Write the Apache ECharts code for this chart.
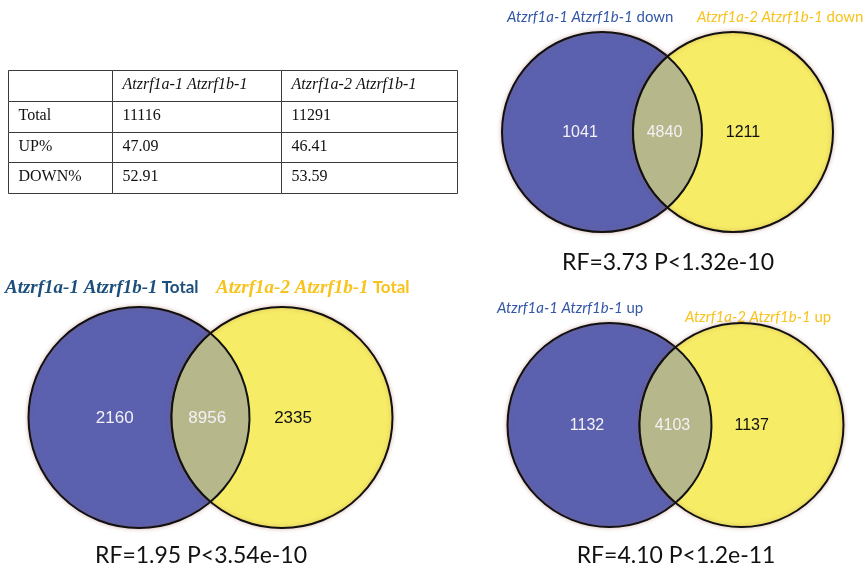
<!DOCTYPE html>
<html>
<head>
<meta charset="utf-8">
<script src="https://cdn.jsdelivr.net/npm/echarts@6/dist/echarts.min.js"></script>
<style>html,body{margin:0;padding:0;background:#fff}#main{width:868px;height:572px}</style>
</head>
<body>
<div id="main"></div>
<script>
// ---------------- DATA ----------------
const tableHeader = ['', 'Atzrf1a-1 Atzrf1b-1', 'Atzrf1a-2 Atzrf1b-1'];
const tableRowLabels = ['Total', 'UP%', 'DOWN%'];
const mutant1Stats = ['11116', '47.09', '52.91'];
const mutant2Stats = ['11291', '46.41', '53.59'];

const regionNames = ['only a-1', 'both', 'only a-2'];
const totalCounts = [2160, 8956, 2335];
const downCounts = [1041, 4840, 1211];
const upCounts = [1132, 4103, 1137];

const totalStat = 'RF=1.95 P<3.54e-10';
const downStat = 'RF=3.73 P<1.32e-10';
const upStat = 'RF=4.10 P<1.2e-11';

const genotype1 = 'Atzrf1a-1 Atzrf1b-1';
const genotype2 = 'Atzrf1a-2 Atzrf1b-1';

// ---------------- LAYOUT / STYLE ----------------
const BLUE = '#5b61af';
const YELLOW = '#f6ec66';
const MIX = '#b6b78b';
const TITLE_BLUE = '#3457a8';
const TITLE_GOLD = '#f7c31c';
const DARK_BLUE = '#1d4f7c';

const COL_EDGES = [0, 104, 273, 449];

// each venn: grid box in px, centre distance in radius units
const vennLayouts = [
  {name: 'down', counts: downCounts, left: 502, top: 32, r: 100, dr: 1.31, fs: 16},
  {name: 'up', counts: upCounts, left: 507.5, top: 323, r: 102, dr: 1.294, fs: 16},
  {name: 'total', counts: totalCounts, left: 28.5, top: 307, r: 110.5, dr: 1.294, fs: 17}
];

const chart = echarts.init(document.getElementById('main'), null, {renderer: 'canvas'});

const grids = [{left: 8, top: 70, width: 449, height: 123}];
const xAxes = [{gridIndex: 0, type: 'value', min: 0, max: 449, show: false}];
const yAxes = [{gridIndex: 0, type: 'value', min: 0, max: 4, inverse: true, show: false}];

// table cells
const cellTexts = [];
const cellData = [];
const tableRows = [tableHeader].concat(tableRowLabels.map((lab, i) => [lab, mutant1Stats[i], mutant2Stats[i]]));
tableRows.forEach((row, r) => row.forEach((txt, c) => { cellData.push([c, r]); cellTexts.push(txt); }));

const series = [{
  type: 'custom',
  xAxisIndex: 0, yAxisIndex: 0,
  data: cellData,
  silent: true,
  renderItem: function (params, api) {
    const c = api.value(0), r = api.value(1);
    const p0 = api.coord([COL_EDGES[c], r]);
    const p1 = api.coord([COL_EDGES[c + 1], r + 1]);
    const x0 = Math.round(p0[0]) + 0.5, y0 = Math.round(p0[1]) + 0.5;
    const x1 = Math.round(p1[0]) + 0.5, y1 = Math.round(p1[1]) + 0.5;
    return {
      type: 'group',
      children: [{
        type: 'rect',
        shape: {x: x0, y: y0, width: x1 - x0, height: y1 - y0},
        style: {fill: '#fff', stroke: '#3a3a3a', lineWidth: 1}
      }, {
        type: 'text',
        style: {
          text: cellTexts[params.dataIndex],
          x: x0 + 10, y: (y0 + y1) / 2 - 1,
          align: 'left', verticalAlign: 'middle',
          fill: '#111',
          font: (r === 0 ? 'italic ' : '') + '16px "Liberation Serif", serif'
        }
      }]
    };
  }
}];

vennLayouts.forEach((v, k) => {
  const gi = k + 1;
  grids.push({left: v.left, top: v.top, width: v.r * (2 + v.dr), height: 2 * v.r});
  xAxes.push({gridIndex: gi, type: 'value', min: 0, max: 2 + v.dr, show: false});
  yAxes.push({gridIndex: gi, type: 'value', min: -1, max: 1, show: false});
  // draw order: left circle, right circle, intersection
  const order = [0, 2, 1];
  const labelX = [0.78, 1 + v.dr / 2 - 0.03, 1 + v.dr + 0.1];
  series.push({
    type: 'custom',
    name: v.name,
    xAxisIndex: gi, yAxisIndex: gi,
    silent: true,
    data: order.map(i => [i, v.counts[i]]),
    renderItem: function (params, api) {
      const region = api.value(0);
      const count = api.value(1);
      const c1 = api.coord([1, 0]);
      const c2 = api.coord([1 + v.dr, 0]);
      const rp = api.size([1, 0])[0];
      const lp = api.coord([labelX[region], 0]);
      let shape;
      if (region === 0 || region === 2) {
        const c = region === 0 ? c1 : c2;
        shape = {
          type: 'circle',
          shape: {cx: c[0], cy: c[1], r: rp},
          style: {fill: region === 0 ? BLUE : YELLOW, stroke: '#111', lineWidth: 2,
                  shadowBlur: 4, shadowColor: 'rgba(160,90,70,0.35)'}
        };
      } else {
        const d = c2[0] - c1[0];
        const h = Math.sqrt(rp * rp - (d / 2) * (d / 2));
        const xm = (c1[0] + c2[0]) / 2, cy = c1[1];
        const path = 'M' + xm + ' ' + (cy - h) +
          ' A' + rp + ' ' + rp + ' 0 0 1 ' + xm + ' ' + (cy + h) +
          ' A' + rp + ' ' + rp + ' 0 0 1 ' + xm + ' ' + (cy - h) + ' Z';
        shape = {
          type: 'path',
          shape: {pathData: path},
          style: {fill: MIX, stroke: '#111', lineWidth: 2}
        };
      }
      return {
        type: 'group',
        children: [shape, {
          type: 'text',
          style: {
            text: String(count),
            x: lp[0], y: lp[1] + 1,
            align: 'center', verticalAlign: 'middle',
            fill: region === 2 ? '#111' : '#f4f1f6',
            font: v.fs + 'px "Liberation Sans", Arial, sans-serif'
          }
        }]
      };
    }
  });
});

function titleText(x, y, name, suffix, color, italicFont, plainFont) {
  return {
    type: 'text', x: x, y: y, silent: true,
    style: {
      text: '{i|' + name + '}{n| ' + suffix + '}',
      verticalAlign: 'middle',
      rich: {
        i: {font: italicFont, fill: color},
        n: {font: plainFont, fill: color}
      }
    }
  };
}
function statText(x, y, txt) {
  return {
    type: 'text', x: x, y: y, silent: true,
    style: {text: txt, align: 'center', verticalAlign: 'middle', fill: '#111',
            font: '23px Lato, "Open Sans", sans-serif'}
  };
}

const smallI = 'italic 15px Lato, sans-serif';
const smallN = '15px Lato, sans-serif';
const serifBI = 'italic bold 19px "Liberation Serif", serif';
const sansB = 'bold 17px Lato, sans-serif';

const graphics = [
  titleText(507, 17, genotype1, 'down', TITLE_BLUE, smallI, smallN),
  titleText(697, 17, genotype2, 'down', TITLE_GOLD, smallI, smallN),
  titleText(497, 308, genotype1, 'up', TITLE_BLUE, smallI, smallN),
  titleText(685, 317, genotype2, 'up', TITLE_GOLD, smallI, smallN),
  titleText(5, 288, genotype1, 'Total', DARK_BLUE, serifBI, sansB),
  titleText(216, 288, genotype2, 'Total', TITLE_GOLD, serifBI, sansB),
  statText(668, 263, downStat),
  statText(201, 556, totalStat),
  statText(676, 556, upStat)
];

chart.setOption({
  animation: false,
  backgroundColor: '#fff',
  grid: grids,
  xAxis: xAxes,
  yAxis: yAxes,
  series: series,
  graphic: graphics
});
</script>
</body>
</html>
